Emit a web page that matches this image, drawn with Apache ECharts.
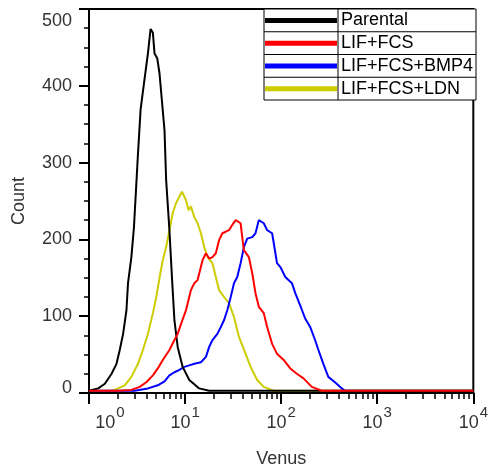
<!DOCTYPE html>
<html><head><meta charset="utf-8">
<script src="https://cdn.jsdelivr.net/npm/echarts@6.0.0/dist/echarts.min.js"></script>
<style>html,body{margin:0;padding:0;background:#fff}#c{width:491px;height:474px}</style>
</head><body><div id="c"></div>
<script>
// Series names (legend order)
const seriesNames = ['Parental', 'LIF+FCS', 'LIF+FCS+BMP4', 'LIF+FCS+LDN'];
const seriesColors = ['#000000', '#ff0000', '#0000ff', '#cccc00'];

// x = log10(Venus), y = Count
const parentalLogVenus = [0, 0.096, 0.165, 0.235, 0.286, 0.32, 0.355, 0.39, 0.406, 0.441, 0.468, 0.51, 0.537, 0.572, 0.613, 0.641, 0.665, 0.682, 0.71, 0.734, 0.786, 0.803, 0.837, 0.865, 0.889, 0.923, 0.975, 1.044, 1.147, 1.25, 4];
const parentalCount = [3, 6, 12, 25, 38, 56, 77, 108, 143, 177, 216, 312, 369, 403, 442, 474, 469, 442, 436, 416, 342, 277, 212, 147, 95, 60, 34, 17, 6, 3, 3];

const lifFcsLogVenus = [0, 0.303, 0.441, 0.527, 0.596, 0.665, 0.716, 0.768, 0.837, 0.889, 0.923, 0.958, 1.01, 1.061, 1.096, 1.13, 1.182, 1.217, 1.251, 1.285, 1.32, 1.354, 1.388, 1.423, 1.457, 1.492, 1.527, 1.543, 1.578, 1.595, 1.612, 1.664, 1.699, 1.733, 1.768, 1.819, 1.854, 1.906, 1.957, 2.026, 2.095, 2.163, 2.233, 2.319, 2.422, 4];
const lifFcsCount = [3, 3, 4, 8, 14, 23, 32, 43, 56, 69, 77, 90, 108, 134, 143, 147, 173, 182, 175, 177, 182, 199, 208, 210, 212, 219, 225, 226, 221, 203, 186, 177, 156, 130, 112, 104, 86, 64, 51, 43, 32, 25, 19, 8, 3, 3];

const bmp4LogVenus = [0, 0.475, 0.613, 0.716, 0.786, 0.837, 0.889, 0.941, 0.992, 1.044, 1.096, 1.165, 1.217, 1.251, 1.285, 1.336, 1.372, 1.406, 1.44, 1.475, 1.509, 1.543, 1.578, 1.612, 1.647, 1.699, 1.733, 1.767, 1.785, 1.819, 1.854, 1.906, 1.94, 1.957, 1.992, 2.043, 2.112, 2.147, 2.198, 2.25, 2.302, 2.353, 2.388, 2.439, 2.491, 2.56, 2.612, 2.664, 4];
const bmp4Count = [3, 3, 6, 10, 15, 23, 27, 30, 34, 36, 38, 40, 47, 60, 69, 77, 86, 95, 108, 125, 143, 151, 169, 190, 201, 203, 208, 225, 227, 221, 212, 208, 182, 169, 164, 151, 143, 130, 114, 97, 86, 69, 56, 38, 21, 14, 8, 3, 3];

const ldnLogVenus = [0, 0.2, 0.269, 0.372, 0.441, 0.51, 0.561, 0.613, 0.665, 0.7, 0.734, 0.768, 0.803, 0.837, 0.871, 0.906, 0.941, 0.968, 1.01, 1.037, 1.061, 1.096, 1.13, 1.165, 1.199, 1.233, 1.285, 1.32, 1.354, 1.406, 1.457, 1.509, 1.561, 1.63, 1.682, 1.75, 1.819, 1.922, 4];
const ldnCount = [3, 3, 4, 10, 21, 38, 56, 77, 104, 125, 150, 173, 190, 212, 234, 247, 256, 262, 251, 238, 243, 229, 221, 208, 190, 177, 169, 151, 134, 125, 117, 99, 73, 51, 34, 17, 8, 3, 3];

// Axis ticks
const xDecades = [0, 1, 2, 3, 4];
const yTicks = [0, 100, 200, 300, 400, 500];

const FONT = 'Liberation Sans, Arial, sans-serif';
function zip(xs, ys) { return xs.map((x, i) => [x, ys[i]]); }

const minorX = [];
for (let n = 0; n < 4; n++) for (let k = 2; k <= 9; k++) minorX.push(n + Math.log10(k));

const dataSets = [
  zip(parentalLogVenus, parentalCount),
  zip(lifFcsLogVenus, lifFcsCount),
  zip(bmp4LogVenus, bmp4Count),
  zip(ldnLogVenus, ldnCount)
];
const drawOrder = [3, 2, 0, 1];

const chart = echarts.init(document.getElementById('c'), null, {renderer: 'canvas'});

// legend table built from names/colors
const lgLeft = 264, lgRight = 476, lgTop = 9, rowH = 22.75, divX = 338;
const legendEls = [];
legendEls.push({type: 'rect', shape: {x: lgLeft, y: lgTop, width: lgRight - lgLeft, height: rowH * seriesNames.length},
  style: {fill: '#fff', stroke: '#000', lineWidth: 1}, z: 100});
legendEls.push({type: 'line', shape: {x1: divX, y1: lgTop, x2: divX, y2: lgTop + rowH * seriesNames.length},
  style: {stroke: '#000', lineWidth: 1}, z: 101});
seriesNames.forEach((name, i) => {
  const cy = lgTop + rowH * (i + 0.5);
  if (i > 0) legendEls.push({type: 'line', shape: {x1: lgLeft, y1: lgTop + rowH * i, x2: lgRight, y2: lgTop + rowH * i},
    style: {stroke: '#000', lineWidth: 1}, z: 101});
  legendEls.push({type: 'line', shape: {x1: lgLeft + 1, y1: cy, x2: divX - 1, y2: cy},
    style: {stroke: seriesColors[i], lineWidth: 5}, z: 102});
  legendEls.push({type: 'text', x: divX + 3, y: cy, z: 102,
    style: {text: name, fill: '#000', font: '18px ' + FONT, verticalAlign: 'middle', align: 'left'}});
});

const option = {
  animation: false,
  backgroundColor: '#fff',
  grid: {left: 89, right: 15, top: 9, bottom: 81, show: true, borderColor: '#000', borderWidth: 2, backgroundColor: 'transparent'},
  xAxis: [{
    type: 'value', min: xDecades[0], max: xDecades[xDecades.length - 1], interval: 1,
    name: 'Venus', nameLocation: 'middle', nameGap: 57,
    nameTextStyle: {fontSize: 18, color: '#333', fontFamily: FONT},
    axisLine: {show: true, lineStyle: {color: '#000', width: 2}},
    axisTick: {show: true, length: 11, lineStyle: {color: '#000', width: 2}},
    splitLine: {show: false},
    axisLabel: {
      margin: 12, color: '#333', fontFamily: FONT, fontSize: 18,
      formatter: v => (v === 0 ? '{b0|10}' : '{b|10}') + '{s|' + v + '}',
      rich: {
        b: {fontSize: 18, color: '#333', fontFamily: FONT},
        b0: {fontSize: 18, color: '#333', fontFamily: FONT, padding: [0, 0, 0, 42]},
        s: {fontSize: 15, color: '#333', fontFamily: FONT, padding: [0, 0, 22, 1]}
      }
    }
  }, {
    type: 'value', min: 0, max: 4, position: 'bottom',
    axisLine: {show: false}, splitLine: {show: false},
    axisLabel: {show: false},
    axisTick: {show: true, length: 6, customValues: minorX, lineStyle: {color: '#000', width: 1.5}}
  }],
  yAxis: {
    type: 'value', min: yTicks[0], max: yTicks[yTicks.length - 1], interval: 100,
    name: 'Count', nameLocation: 'middle', nameGap: 61,
    nameTextStyle: {fontSize: 18, color: '#333', fontFamily: FONT},
    axisLine: {show: true, lineStyle: {color: '#000', width: 2}},
    axisTick: {show: true, length: 10, lineStyle: {color: '#000', width: 2}},
    minorTick: {show: true, splitNumber: 4, length: 5, lineStyle: {color: '#000', width: 1.5}},
    splitLine: {show: false}, minorSplitLine: {show: false},
    axisLabel: {
      margin: 17, color: '#333', fontFamily: FONT, fontSize: 18,
      formatter: v => v === 500 ? '{t|500}' : (v === 0 ? '{z|0}' : '{n|' + v + '}'),
      rich: {
        n: {fontSize: 18, color: '#333', fontFamily: FONT},
        t: {fontSize: 18, color: '#333', fontFamily: FONT, padding: [24, 0, 0, 0]},
        z: {fontSize: 18, color: '#333', fontFamily: FONT, padding: [0, 0, 10, 0]}
      }
    }
  },
  series: drawOrder.map(i => ({
    name: seriesNames[i], type: 'line', data: dataSets[i], xAxisIndex: 0,
    showSymbol: false, symbol: 'none', smooth: false,
    lineStyle: {color: seriesColors[i], width: 2}, itemStyle: {color: seriesColors[i]}
  })),
  graphic: legendEls
};
chart.setOption(option);
</script>
</body></html>
